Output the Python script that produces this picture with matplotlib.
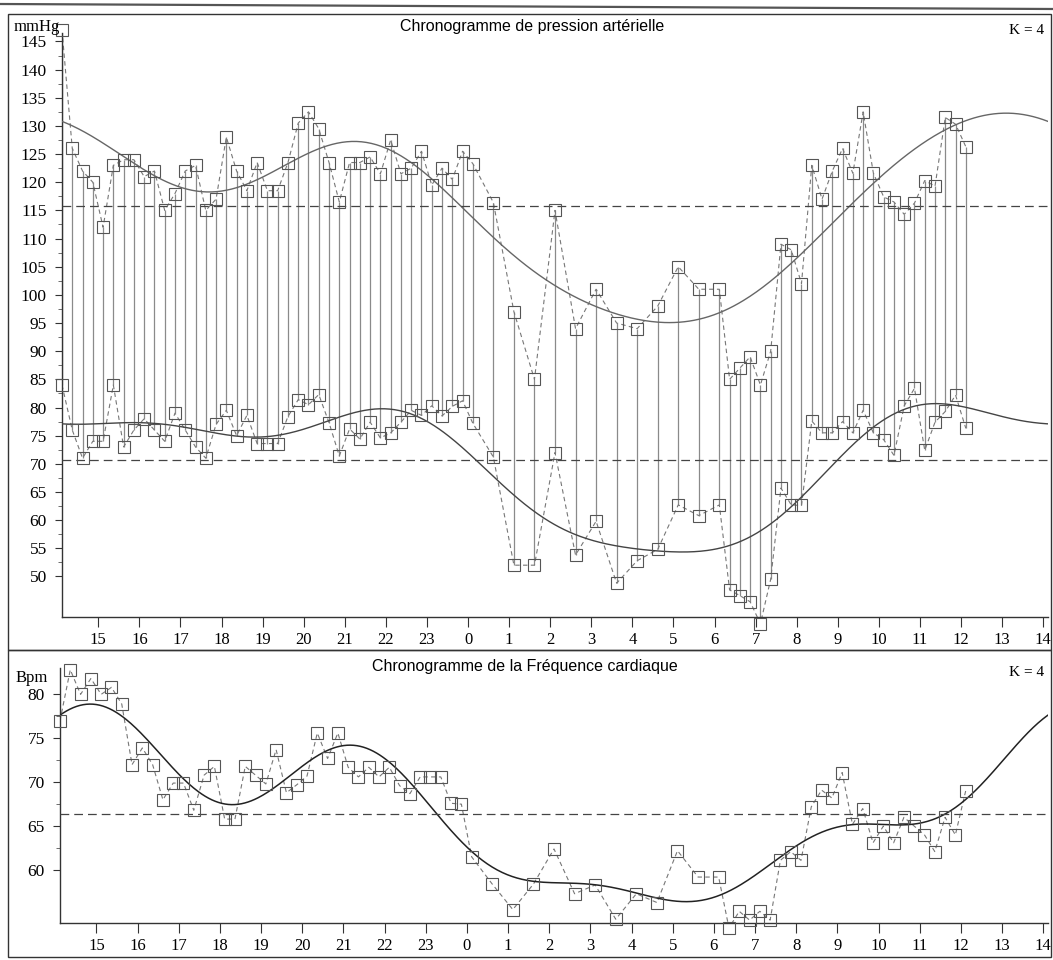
import matplotlib
matplotlib.use("Agg")
import matplotlib.pyplot as plt
import numpy as np
from matplotlib.patches import Rectangle
from matplotlib.lines import Line2D

# ---------------- data ----------------
times = ["14:07", "14:22", "14:37", "14:52", "15:07", "15:22", "15:37", "15:52",
         "16:07", "16:22", "16:37", "16:52", "17:07", "17:22", "17:37", "17:52",
         "18:07", "18:22", "18:37", "18:52", "19:07", "19:22", "19:37", "19:52",
         "20:07", "20:22", "20:37", "20:52", "21:07", "21:22", "21:37", "21:52",
         "22:07", "22:22", "22:37", "22:52", "23:07", "23:22", "23:37", "23:52",
         "00:07", "00:37", "01:07", "01:37", "02:07", "02:37", "03:07", "03:37",
         "04:07", "04:37", "05:07", "05:37", "06:07", "06:22", "06:37", "06:52",
         "07:07", "07:22", "07:37", "07:52", "08:07", "08:22", "08:37", "08:52",
         "09:07", "09:22", "09:37", "09:52", "10:07", "10:22", "10:37", "10:52",
         "11:07", "11:22", "11:37", "11:52", "12:07"]

systolic = [147, 126, 122, 120, 112, 123, 124, 124, 121, 122, 115, 118, 122, 123,
            115, 117, 128, 122, 118.5, 123.5, 118.5, 118.5, 123.5, 130.5, 132.5,
            129.5, 123.5, 116.5, 123.5, 123.5, 124.5, 121.5, 127.5, 121.5, 122.5,
            125.5, 119.5, 122.5, 120.5, 125.5, 123.3, 116.4, 97, 85, 115, 94, 101,
            95, 94, 98, 105, 101, 101, 85, 87, 89, 84, 90, 109, 108, 102, 123, 117,
            122, 126, 121.6, 132.5, 121.6, 117.4, 116.5, 114.3, 116.3, 120.3, 119.3,
            131.5, 130.3, 126.3]

diastolic = [84, 76, 71, 74, 74, 84, 73, 76, 78, 76, 74, 79, 76, 73, 71, 77, 79.5,
             75, 78.6, 73.6, 73.6, 73.6, 78.4, 81.4, 80.5, 82.3, 77.3, 71.4, 76.2,
             74.4, 77.4, 74.6, 75.5, 77.4, 79.5, 78.6, 80.3, 78.5, 80.2, 81.2, 77.2,
             71.2, 52, 52, 72, 53.8, 59.8, 48.8, 52.8, 54.8, 62.7, 60.8, 62.7, 47.6,
             46.6, 45.5, 41.6, 49.5, 65.7, 62.7, 62.6, 77.6, 75.5, 75.5, 77.5, 75.5,
             79.5, 75.5, 74.3, 71.5, 80.3, 83.4, 72.4, 77.4, 79.3, 82.2, 76.3]

heart_rate = [77.0, 82.8, 80.0, 81.8, 80.0, 80.8, 78.9, 72.0, 73.9, 72.0, 68.0, 69.9,
              69.9, 66.8, 70.8, 71.8, 65.8, 65.8, 71.8, 70.8, 69.8, 73.7, 68.8, 69.7,
              70.7, 75.6, 72.7, 75.6, 71.7, 70.6, 71.7, 70.6, 71.7, 69.6, 68.7, 70.6,
              70.6, 70.6, 67.6, 67.5, 61.5, 58.4, 55.5, 58.4, 62.4, 57.3, 58.3, 54.4,
              57.3, 56.3, 62.2, 59.2, 59.2, 53.4, 55.3, 54.3, 55.3, 54.3, 61.1, 62.1,
              61.1, 67.2, 69.1, 68.2, 71.1, 65.2, 67.0, 63.1, 65.0, 63.1, 66.0, 65.0,
              64.0, 62.1, 66.0, 64.0, 69.0]

hour_ticks = list(range(15, 39))
hour_labels = [str(h % 24) for h in hour_ticks]
bp_yticks = list(range(50, 150, 5))
hr_yticks = [60, 65, 70, 75, 80]
n_harmonics = 4

title_bp = "Chronogramme de pression artérielle"
title_hr = "Chronogramme de la Fréquence cardiaque"

# ---------------- helpers ----------------
def to_hours(s):
    h, m = map(int, s.split(":"))
    v = h + m / 60.0
    return v + 24 if v < 14 else v

t = np.array([to_hours(s) for s in times])
t0 = t[0]
t_end = t0 + 24


def harmonic_fit(tt_data, y, K):
    """Fourier fit (K harmonics, 24 h period) of the series resampled
    periodically on a regular 24 h grid (gaps filled by linear interpolation)."""
    grid = np.linspace(t0, t_end, 24 * 12, endpoint=False)
    yg = np.interp(grid, tt_data, np.asarray(y, float), period=24)

    def design(tt):
        cols = [np.ones_like(tt)]
        for k in range(1, K + 1):
            w = 2 * np.pi * k / 24.0
            cols += [np.cos(w * tt), np.sin(w * tt)]
        return np.column_stack(cols)
    coef, *_ = np.linalg.lstsq(design(grid), yg, rcond=None)
    return (lambda tt: design(tt) @ coef), coef[0]


SERIF = ["Liberation Serif", "DejaVu Serif"]
SANS = ["Liberation Sans", "DejaVu Sans"]

W, H = 1053, 960
fig = plt.figure(figsize=(W / 100, H / 100), dpi=100)
fig.patch.set_facecolor("white")


def fx(px):
    return px / W


def fy(py):
    return 1 - py / H


# frames
fig.add_artist(Line2D([0, 1], [fy(4), fy(9)], color="#555", lw=1.6))
fig.add_artist(Rectangle((fx(8), fy(650)), fx(1051) - fx(8), fy(14) - fy(650),
                         fill=False, ec="#333", lw=1.0))
fig.add_artist(Rectangle((fx(8), fy(957)), fx(1051) - fx(8), fy(650) - fy(957),
                         fill=False, ec="#333", lw=1.0))

tt = np.linspace(t0, t_end, 600)

MK = dict(marker="s", ms=8, mfc="none", mec="#555", mew=0.8, ls="none", zorder=4,
          clip_on=False)
CONN = dict(color="#777", lw=0.8, dashes=(4, 3), zorder=2)
MEAN = dict(color="#444", lw=0.9, dashes=(7, 4), zorder=3)


def style_axes(ax, ylim, yticks):
    ax.set_xlim(t0, t_end)
    ax.set_ylim(*ylim)
    for s in ["top", "right"]:
        ax.spines[s].set_visible(False)
    for s in ["left", "bottom"]:
        ax.spines[s].set_color("#333")
        ax.spines[s].set_linewidth(1.0)
    ax.set_xticks(hour_ticks)
    ax.set_xticklabels(hour_labels, fontfamily=SERIF, fontsize=12)
    ax.set_yticks(yticks)
    ax.set_yticklabels([str(v) for v in yticks], fontfamily=SERIF, fontsize=12.5)
    ax.set_yticks([v + 2.5 for v in yticks[:-1]], minor=True)
    ax.tick_params(axis="x", direction="out", length=7, width=0.8, color="#333",
                   pad=4)
    ax.tick_params(axis="y", which="major", direction="out", length=5, width=0.8,
                   color="#333", pad=6)
    ax.tick_params(axis="y", which="minor", direction="out", length=3, width=0.6,
                   color="#555")
    ax.set_facecolor("none")


# ---------------- blood pressure ----------------
ax1 = fig.add_axes([fx(62), fy(617), fx(1048) - fx(62), fy(33) - fy(617)])
style_axes(ax1, (42.8, 146.5), bp_yticks)

ax1.vlines(t, diastolic, systolic, color="#8a8a8a", lw=0.9, zorder=1)
ax1.plot(t, systolic, **CONN)
ax1.plot(t, diastolic, **CONN)
ax1.plot(t, systolic, **MK)
ax1.plot(t, diastolic, **MK)

sys_fit, sys_mesor = harmonic_fit(t, systolic, n_harmonics)
dia_fit, dia_mesor = harmonic_fit(t, diastolic, n_harmonics)
ax1.plot(tt, sys_fit(tt), color="#666", lw=1.0, zorder=3)
ax1.plot(tt, dia_fit(tt), color="#444", lw=1.0, zorder=3)
ax1.axhline(sys_mesor, **MEAN)
ax1.axhline(dia_mesor, **MEAN)

fig.text(fx(14), fy(27), "mmHg", fontfamily=SERIF, fontsize=12, ha="left",
         va="center")
fig.text(fx(532), fy(26), title_bp, fontfamily=SANS, fontsize=11.5, ha="center",
         va="center")
fig.text(fx(1044), fy(30), "K = 4", fontfamily=SERIF, fontsize=11, ha="right",
         va="center")

# ---------------- heart rate ----------------
ax2 = fig.add_axes([fx(60), fy(923), fx(1048) - fx(60), fy(668) - fy(923)])
style_axes(ax2, (53.97, 83.0), hr_yticks)

ax2.plot(t, heart_rate, **CONN)
ax2.plot(t, heart_rate, **MK)
hr_fit, hr_mesor = harmonic_fit(t, heart_rate, n_harmonics)
ax2.plot(tt, hr_fit(tt), color="#222", lw=1.1, zorder=3)
ax2.axhline(hr_mesor, **MEAN)

fig.text(fx(16), fy(678), "Bpm", fontfamily=SERIF, fontsize=12, ha="left",
         va="center")
fig.text(fx(525), fy(666), title_hr, fontfamily=SANS, fontsize=11.5, ha="center",
         va="center")
fig.text(fx(1044), fy(672), "K = 4", fontfamily=SERIF, fontsize=11, ha="right",
         va="center")

fig.savefig("out.png", dpi=100, facecolor="white")
